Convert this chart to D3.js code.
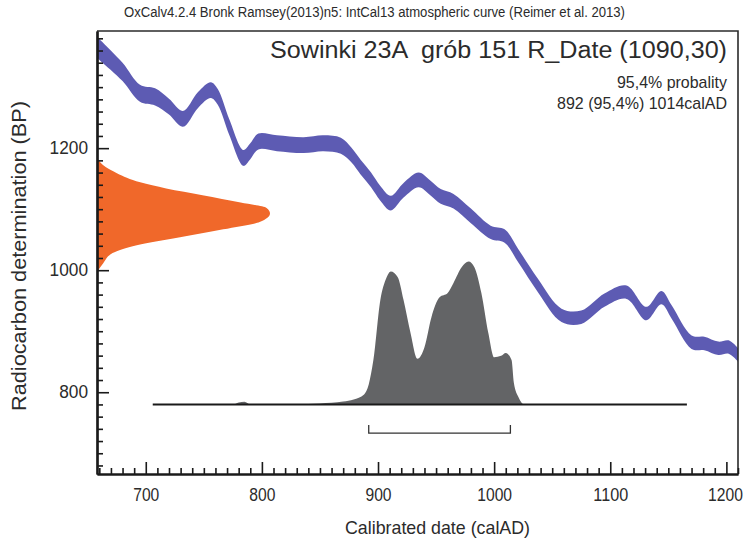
<!DOCTYPE html>
<html>
<head>
<meta charset="utf-8">
<script src="https://cdn.jsdelivr.net/npm/d3@7"></script>
<style>
  body { margin: 0; background: #fff; }
  text { font-family: "Liberation Sans Narrow", "Arial Narrow", "Liberation Sans", sans-serif; fill: #2b2b2b; }
</style>
</head>
<body>
<div id="chart"></div>
<script>
// calibration curve (IntCal13), centre and half width in BP
var calYears = [658, 661, 680, 695, 708, 720, 732, 745, 756, 762, 772, 784, 790, 797, 813, 836, 853, 868, 877, 885, 894, 902, 911, 922, 935, 945, 954, 965, 980, 997, 1009, 1021, 1038, 1058, 1075, 1095, 1114, 1131, 1144, 1153, 1170, 1181, 1193, 1202, 1210];
var calBP    = [1365, 1360, 1325, 1290, 1284, 1268, 1248, 1279, 1295, 1284, 1234, 1184, 1195, 1211, 1208, 1205, 1208, 1204, 1189, 1169, 1148, 1126, 1110, 1131, 1148, 1135, 1121, 1113, 1089, 1062, 1056, 1023, 974, 926, 923, 951, 964, 929, 955, 931, 882, 880, 872, 874, 861];
var calSigma = [17, 17, 15, 14, 14, 13, 13, 13, 13, 13, 13, 13, 13, 13, 13, 13, 13, 13, 12, 12, 12, 12, 12, 12, 12, 12, 12, 12, 12, 11, 11, 11, 11, 11, 11, 11, 11, 11, 11, 11, 11, 11, 11, 11, 11];

// radiocarbon date R_Date(1090,30): relative density against BP
var radBP   = [1184, 1169, 1159, 1144, 1134, 1123, 1111, 1102, 1093, 1079, 1067, 1054, 1041, 1028, 1011, 997];
var radProb = [0, 0.05, 0.115, 0.25, 0.40, 0.61, 0.83, 0.98, 1.0, 0.94, 0.73, 0.48, 0.23, 0.09, 0.035, 0];

// calibrated distribution: relative probability against calAD
var postYears = [706, 775, 780, 785, 790, 820, 850, 870, 879, 888, 892, 896, 902, 907, 911, 917, 922, 928, 934, 940, 946, 953, 960, 965, 972, 978, 983, 989, 995, 1000, 1006, 1010, 1015, 1017, 1021, 1026, 1166];
var postProb  = [0, 0, 0.014, 0.018, 0, 0, 0.007, 0.02, 0.035, 0.07, 0.14, 0.31, 0.73, 0.88, 0.93, 0.89, 0.73, 0.5, 0.32, 0.4, 0.61, 0.75, 0.78, 0.85, 0.96, 1.0, 0.96, 0.78, 0.5, 0.33, 0.34, 0.36, 0.31, 0.15, 0.05, 0, 0];

var rangeFrom = 892, rangeTo = 1014;
var xMajor = [700, 800, 900, 1000, 1100, 1200];
var yMajor = [800, 1000, 1200];

var width = 747, height = 541;

var svg = d3.select("#chart").append("svg")
    .attr("width", width)
    .attr("height", height);

var x = d3.scaleLinear().domain([658, 1210]).range([97, 738]);
var y = d3.scaleLinear().domain([666, 1392]).range([474, 31]);
var radW = d3.scaleLinear().domain([0, 1]).range([0, 173]);
var postH = d3.scaleLinear().domain([0, 1]).range([0, 143]);
var baseBP = 780;   // level of the calibrated distribution baseline
var bracketBP = 733;

var cal = calYears.map(function(d, i) { return {year: d, bp: calBP[i], s: calSigma[i]}; });
var rad = radBP.map(function(d, i) { return {bp: d, p: radProb[i]}; });
var post = postYears.map(function(d, i) { return {year: d, p: postProb[i]}; });

var plot = svg.append("g");
plot.append("clipPath").attr("id", "clip")
    .append("rect").attr("x", 97).attr("y", 31).attr("width", 641).attr("height", 443);

// calibration band
plot.append("path")
    .datum(cal)
    .attr("clip-path", "url(#clip)")
    .attr("fill", "#5d5bb3")
    .attr("d", d3.area()
        .x(function(d) { return x(d.year); })
        .y0(function(d) { return y(d.bp - d.s); })
        .y1(function(d) { return y(d.bp + d.s); })
        .curve(d3.curveCatmullRom));

// radiocarbon date on the y axis
plot.append("path")
    .datum(rad)
    .attr("fill", "#f0682a")
    .attr("d", d3.area()
        .y(function(d) { return y(d.bp); })
        .x0(x.range()[0])
        .x1(function(d) { return x.range()[0] + radW(d.p); })
        .curve(d3.curveMonotoneY));

// calibrated distribution
var base = y(baseBP);
plot.append("path")
    .datum(post)
    .attr("fill", "#636466")
    .attr("d", d3.area()
        .x(function(d) { return x(d.year); })
        .y0(base)
        .y1(function(d) { return base - postH(d.p); })
        .curve(d3.curveMonotoneX));

plot.append("line")
    .attr("x1", x(postYears[0])).attr("x2", x(postYears[postYears.length - 1]))
    .attr("y1", base).attr("y2", base)
    .attr("stroke", "#1a1a1a").attr("stroke-width", 2);

// 95.4% range bracket
var by = y(bracketBP);
plot.append("path")
    .attr("d", "M" + x(rangeFrom) + "," + (by - 8) + "V" + by + "H" + x(rangeTo) + "V" + (by - 8))
    .attr("fill", "none").attr("stroke", "#333").attr("stroke-width", 1.3);

// frame
svg.append("path")
    .attr("d", "M97,31H738V474")
    .attr("fill", "none").attr("stroke", "#2b2b2b").attr("stroke-width", 1.6);

function narrow(sel, perChar) {
  sel.attr("lengthAdjust", "spacingAndGlyphs")
     .attr("textLength", function() { return this.textContent.length * perChar; });
}

// x axis
var xMinor = d3.range(660, 1211, 10).filter(function(d) { return d % 100 !== 0; });
var gx = svg.append("g").attr("transform", "translate(0," + y.range()[0] + ")");
gx.call(d3.axisBottom(x).tickValues(xMinor).tickSize(-6).tickSizeOuter(0).tickFormat(""));
gx.call(function(g) {
  g.append("g").call(d3.axisBottom(x).tickValues(xMajor).tickSize(-12).tickSizeOuter(0).tickFormat(d3.format("d")).tickPadding(14));
});
gx.selectAll(".domain").attr("stroke", "#1a1a1a").attr("stroke-width", 2.2);
gx.selectAll(".tick line").attr("stroke", "#1a1a1a").attr("stroke-width", 1.6);
gx.selectAll(".tick text").attr("font-size", 18).attr("fill", "#2b2b2b")
    .style("font-family", "'Liberation Sans Narrow', 'Arial Narrow', sans-serif")
    .call(narrow, 8.7);
// last label sits against the right edge
gx.selectAll(".tick text").filter(function(d) { return d === 1200; })
    .attr("text-anchor", "end").attr("x", 16);

// y axis
var yMinor = d3.range(680, 1391, 20).filter(function(d) { return d % 200 !== 0; });
var gy = svg.append("g").attr("transform", "translate(" + x.range()[0] + ",0)");
gy.call(d3.axisLeft(y).tickValues(yMinor).tickSize(-6).tickSizeOuter(0).tickFormat(""));
gy.call(function(g) {
  g.append("g").call(d3.axisLeft(y).tickValues(yMajor).tickSize(-12).tickSizeOuter(0).tickFormat(d3.format("d")).tickPadding(9));
});
gy.selectAll(".domain").attr("stroke", "#1a1a1a").attr("stroke-width", 2.2);
gy.selectAll(".tick line").attr("stroke", "#1a1a1a").attr("stroke-width", 1.6);
gy.selectAll(".tick text").attr("font-size", 18).attr("fill", "#2b2b2b")
    .style("font-family", "'Liberation Sans Narrow', 'Arial Narrow', sans-serif")
    .call(narrow, 9.6);

// texts
svg.append("text").attr("x", 124).attr("y", 17)
    .attr("font-size", 14).attr("textLength", 501).attr("lengthAdjust", "spacingAndGlyphs")
    .text("OxCalv4.2.4 Bronk Ramsey(2013)n5: IntCal13 atmospheric curve (Reimer et al. 2013)");
svg.append("text").attr("x", 270).attr("y", 58)
    .attr("font-size", 23).attr("xml:space", "preserve")
    .attr("textLength", 457).attr("lengthAdjust", "spacingAndGlyphs")
    .text("Sowinki 23A  grób 151 R_Date (1090,30)");
svg.append("text").attr("x", 617).attr("y", 88)
    .attr("font-size", 17).attr("textLength", 110).attr("lengthAdjust", "spacingAndGlyphs")
    .text("95,4% probality");
svg.append("text").attr("x", 557).attr("y", 109)
    .attr("font-size", 17).attr("textLength", 170).attr("lengthAdjust", "spacingAndGlyphs")
    .text("892 (95,4%) 1014calAD");
svg.append("text").attr("x", 345).attr("y", 534)
    .attr("font-size", 19).attr("textLength", 185).attr("lengthAdjust", "spacingAndGlyphs")
    .text("Calibrated date (calAD)");
svg.append("text").attr("transform", "translate(26,411) rotate(-90)")
    .attr("font-size", 20).attr("textLength", 310).attr("lengthAdjust", "spacingAndGlyphs")
    .text("Radiocarbon determination (BP)");
</script>
</body>
</html>
